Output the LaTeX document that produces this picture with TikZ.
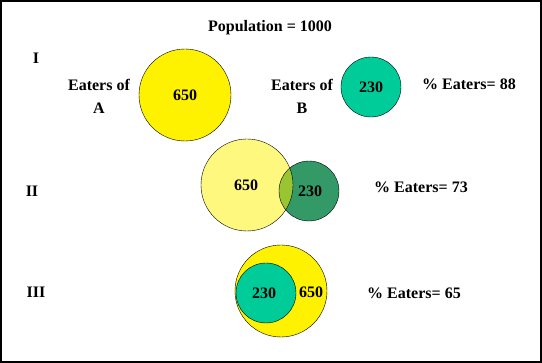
\documentclass[tikz,border=0pt]{standalone}
\usepackage{fontspec}
\setmainfont{Liberation Serif}
\usepackage{tikz}
\definecolor{teal230}{RGB}{0,204,153}
\definecolor{dkgreen}{RGB}{51,153,102}
\def\circAone{(185,95) circle(46pt)}
\def\circBone{(371,87) circle(30pt)}
\def\circAtwo{(247,185) circle(46pt)}
\def\circBtwo{(309,191) circle(30pt)}
\def\circAthree{(281,291) circle(46pt)}
\def\circBthree{(266,293) circle(30pt)}
\tikzset{lbl/.style={font=\fontsize{16}{23}\selectfont\bfseries, align=center, inner sep=0pt}}

\begin{document}
\begin{tikzpicture}[x=1pt,y=-1pt]
	\useasboundingbox (0,0) rectangle (542,363);
	\draw [line width=2pt] (1,1) rectangle (541,362);

	\node [lbl] (pop) at (270,28) {Population = 1000};

	%row I: the two groups apart
	\node [lbl] (one) at (36,58) {I};
	\fill [yellow] \circAone;
	\draw \circAone;
	\fill [teal230] \circBone;
	\draw \circBone;
	\node [lbl] (eatA) at (99,96) {Eaters of\\A};
	\node [lbl] (eatB) at (302,96) {Eaters of\\B};
	\node [lbl] (nA1) at (185,95) {650};
	\node [lbl] (nB1) at (371,87) {230};
	\node [lbl] (pct1) at (469,84) {\% Eaters= 88};

	%row II: overlapping
	\node [lbl] (two) at (32,191) {II};
	\fill [dkgreen] \circBtwo;
	\fill [yellow, fill opacity=0.5] \circAtwo;
	\draw \circBtwo;
	\draw \circAtwo;
	\node [lbl] (nA2) at (246,185) {650};
	\node [lbl] (nB2) at (310,191) {230};
	\node [lbl] (pct2) at (421,187) {\% Eaters= 73};

	%row III: B inside A
	\node [lbl] (three) at (36,292) {III};
	\fill [yellow] \circAthree;
	\draw \circAthree;
	\fill [teal230] \circBthree;
	\draw \circBthree;
	\node [lbl] (nB3) at (264,293) {230};
	\node [lbl] (nA3) at (311,292) {650};
	\node [lbl] (pct3) at (414,293) {\% Eaters= 65};
\end{tikzpicture}
\end{document}
